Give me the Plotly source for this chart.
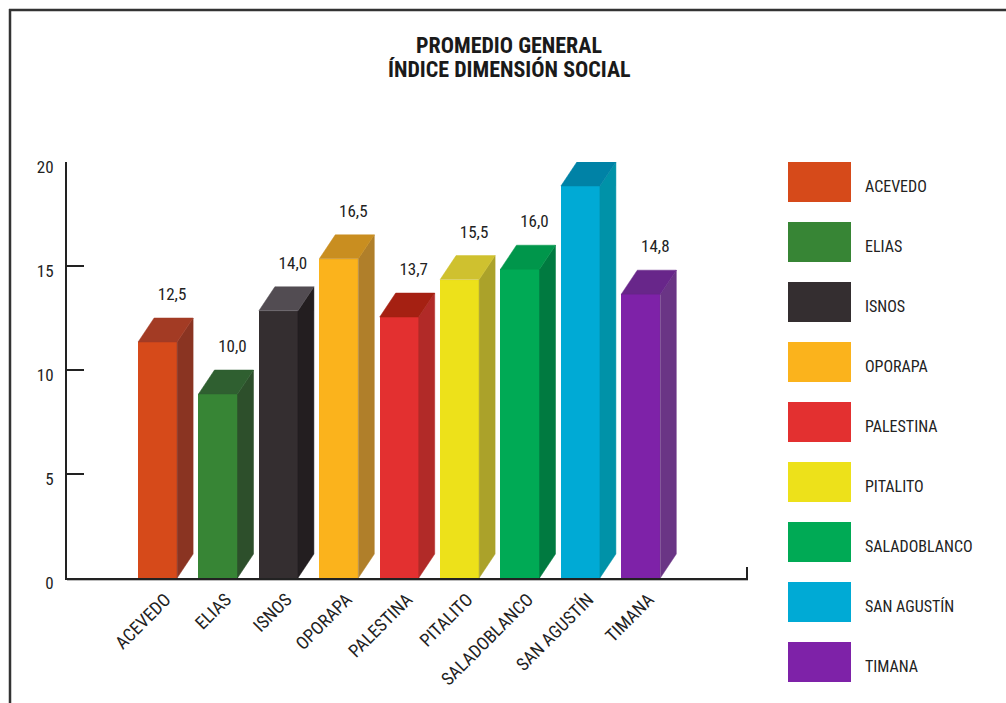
import plotly.graph_objects as go

categories = ["ACEVEDO", "ELIAS", "ISNOS", "OPORAPA", "PALESTINA",
              "PITALITO", "SALADOBLANCO", "SAN AGUSTÍN", "TIMANA"]
values = [12.5, 10.0, 14.0, 16.5, 13.7, 15.5, 16.0, 20.0, 14.8]
value_labels = ["12,5", "10,0", "14,0", "16,5", "13,7", "15,5", "16,0", "20,0", "14,8"]
front_colors = ["#D64A1A", "#378535", "#342E30", "#FBB31C", "#E33030",
                "#EDE11A", "#00AA55", "#00AAD5", "#7E22A8"]
top_colors = ["#A33B24", "#2F5F30", "#524C52", "#C98E20", "#A52012",
              "#CFC12F", "#00964B", "#0082A6", "#68268A"]
side_colors = ["#8A3422", "#2D4F2B", "#231E20", "#B07F2A", "#B12A28",
               "#ABA22A", "#007A40", "#0092A8", "#6A3585"]
y_ticks = [0, 5, 10, 15, 20]
title_lines = ["PROMEDIO GENERAL", "ÍNDICE DIMENSIÓN SOCIAL"]

FONT = "Liberation Sans Narrow, Roboto Condensed, Arial Narrow, Roboto, sans-serif"
W, H = 1006, 703
ML, MR, MT, MB = 10, 6, 20, 3
PW, PH = W - ML - MR, H - MT - MB


def px_x(px):
    return (px - ML) / PW


def px_y(py):
    return (H - MB - py) / PH


bar_w = 0.646   # front face width (category units)
dx = 0.265      # depth offset in x (category units)
dy = 1.154      # depth offset in y (value units)

xs = list(range(len(categories)))
fig = go.Figure()

# front faces
fig.add_trace(go.Bar(
    x=xs, y=[v - dy for v in values], base=0, width=bar_w,
    marker=dict(color=front_colors, line=dict(width=0)),
    showlegend=False, hoverinfo="skip", xaxis="x", yaxis="y"))

# side and top faces
for i, v in enumerate(values):
    x1 = i + bar_w / 2
    x0 = i - bar_w / 2
    fig.add_trace(go.Scatter(
        x=[x1, x1 + dx, x1 + dx, x1, x1], y=[0, dy, v, v - dy, 0],
        fill="toself", fillcolor=side_colors[i], mode="lines",
        line=dict(width=0.5, color=side_colors[i]),
        showlegend=False, hoverinfo="skip", xaxis="x", yaxis="y"))
    fig.add_trace(go.Scatter(
        x=[x0, x1, x1 + dx, x0 + dx, x0], y=[v - dy, v - dy, v, v, v - dy],
        fill="toself", fillcolor=top_colors[i], mode="lines",
        line=dict(width=0.5, color=top_colors[i]),
        showlegend=False, hoverinfo="skip", xaxis="x", yaxis="y"))

# value labels
fig.add_trace(go.Scatter(
    x=[i + 0.24 for i in xs], y=[v + 1.06 for v in values],
    mode="text", text=value_labels, textposition="middle center",
    textfont=dict(family=FONT, size=17, color="#222222"),
    cliponaxis=False, showlegend=False, hoverinfo="skip",
    xaxis="x", yaxis="y"))

# legend (swatches + labels) as its own subplot
fig.add_trace(go.Bar(
    x=[1] * len(categories), y=xs, base=0, orientation="h", width=0.667,
    marker=dict(color=front_colors, line=dict(width=0)),
    showlegend=False, hoverinfo="skip", xaxis="x2", yaxis="y2"))
fig.add_trace(go.Scatter(
    x=[1.222] * len(categories), y=[i + 0.1 for i in xs],
    mode="text", text=categories, textposition="middle right",
    textfont=dict(family=FONT, size=16, color="#222222"),
    cliponaxis=False, showlegend=False, hoverinfo="skip",
    xaxis="x2", yaxis="y2"))

fig.update_layout(
    width=W, height=H,
    margin=dict(l=ML, r=MR, t=MT, b=MB, autoexpand=False),
    paper_bgcolor="white", plot_bgcolor="white",
    font=dict(family=FONT, color="#222222"),
    showlegend=False,
    bargap=0,
    xaxis=dict(domain=[px_x(67), px_x(748)], range=[-1.5, 9.775],
               tickmode="array", tickvals=xs, ticktext=categories,
               tickangle=-45, ticks="", showgrid=False, zeroline=False,
               automargin=False, ticklabelshift=8, ticklabelstandoff=2,
               showline=True, linecolor="#222222", linewidth=2,
               tickfont=dict(family=FONT, size=18, color="#222222")),
    yaxis=dict(domain=[px_y(578), px_y(162)], range=[0, 20],
               tickmode="array", tickvals=y_ticks, ticktext=[str(t) for t in y_ticks],
               ticks="inside", ticklen=17, tickwidth=2, tickcolor="#222222",
               ticklabelposition="outside", ticklabelstandoff=8, ticklabelshift=5,
               showgrid=False, zeroline=False, automargin=False,
               showline=True, linecolor="#222222", linewidth=2,
               tickfont=dict(family=FONT, size=17, color="#222222")),
    xaxis2=dict(domain=[px_x(788), 1.0], range=[0, 212 / 63], anchor="y2",
                visible=False, fixedrange=True, automargin=False),
    yaxis2=dict(domain=[px_y(692), px_y(152)], range=[8.5, -0.5], anchor="x2",
                visible=False, fixedrange=True, automargin=False),
    annotations=[
        dict(xref="paper", yref="paper", x=px_x(509), y=px_y(31 + 23 * k),
             xanchor="center", yanchor="top", showarrow=False,
             text="<b>" + line + "</b>",
             font=dict(family=FONT, size=22, color="#1a1a1a"))
        for k, line in enumerate(title_lines)
    ],
    shapes=[
        dict(type="line", xref="paper", yref="paper",
             x0=px_x(10), x1=px_x(10), y0=px_y(704), y1=px_y(9),
             line=dict(color="#333333", width=2.5)),
        dict(type="line", xref="paper", yref="paper",
             x0=px_x(9), x1=px_x(1007), y0=px_y(10), y1=px_y(10),
             line=dict(color="#333333", width=2.5)),
        dict(type="line", xref="paper", yref="paper",
             x0=px_x(747), x1=px_x(747), y0=px_y(578), y1=px_y(567),
             line=dict(color="#222222", width=2)),
        dict(type="line", xref="paper", yref="paper",
             x0=px_x(67), x1=px_x(748), y0=px_y(580.5), y1=px_y(580.5),
             line=dict(color="#bbbbbb", width=1)),
    ],
)

fig.write_html("out.html")
